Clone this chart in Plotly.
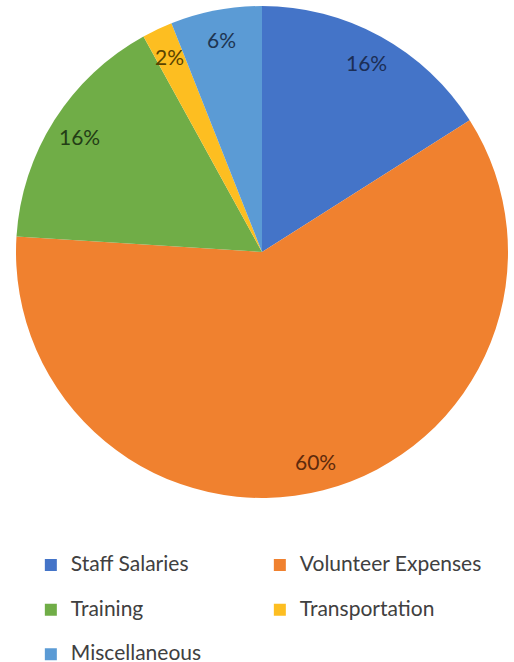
import math
import plotly.graph_objects as go

# Budget breakdown
categories = ["Staff Salaries", "Volunteer Expenses", "Training", "Transportation", "Miscellaneous"]
shares = [16, 60, 16, 2, 6]
slice_colors = ["#4474C8", "#F0812F", "#70AD47", "#FDBE21", "#5B9BD5"]
label_colors = ["#1C2E55", "#5E2A0C", "#233D16", "#5A4300", "#1E3552"]

W, H = 514, 662
# pie geometry in pixels (domain box)
cx, top, diam = 262, 6, 492
rim_r = diam / 2
label_r = 0.88 * rim_r
cy = top + diam / 2

FONT = "Lato, 'Open Sans', sans-serif"

# each legend entry gets a blank second line to open up the row spacing
legend_names = [f"<span style='font-size:21px'>{c}</span><br> " for c in categories]

fig = go.Figure(
    go.Pie(
        labels=legend_names,
        values=shares,
        customdata=categories,
        sort=False,
        direction="clockwise",
        rotation=0,
        marker=dict(colors=slice_colors, line=dict(width=0)),
        textinfo="none",
        hovertemplate="%{customdata}: %{percent}<extra></extra>",
        domain=dict(
            x=[(cx - diam / 2) / W, min(1, (cx + diam / 2) / W)],
            y=[1 - (top + diam) / H, 1 - top / H],
        ),
    )
)

# percentage labels placed near the rim of each slice
total = sum(shares)
cum = 0
annotations = []
for v, col in zip(shares, label_colors):
    mid = 2 * math.pi * (cum + v / 2) / total
    cum += v
    px = cx + label_r * math.sin(mid)
    py = cy - label_r * math.cos(mid)
    annotations.append(
        dict(
            x=px / W, y=1 - py / H, xref="paper", yref="paper",
            xanchor="center", yanchor="middle",
            text=f"{round(100 * v / total)}%", showarrow=False,
            font=dict(family=FONT, size=21, color=col),
        )
    )

fig.update_layout(
    width=W,
    height=H,
    margin=dict(l=0, r=0, t=0, b=0, autoexpand=False),
    paper_bgcolor="white",
    plot_bgcolor="white",
    annotations=annotations,
    showlegend=True,
    legend=dict(
        orientation="h",
        x=0.06, xanchor="left",
        y=0.172, yanchor="top",
        valign="top",
        entrywidth=184,
        entrywidthmode="pixels",
        font=dict(family=FONT, size=16, color="#404040"),
        itemclick=False,
        itemdoubleclick=False,
    ),
)

fig.write_html("out.html")
